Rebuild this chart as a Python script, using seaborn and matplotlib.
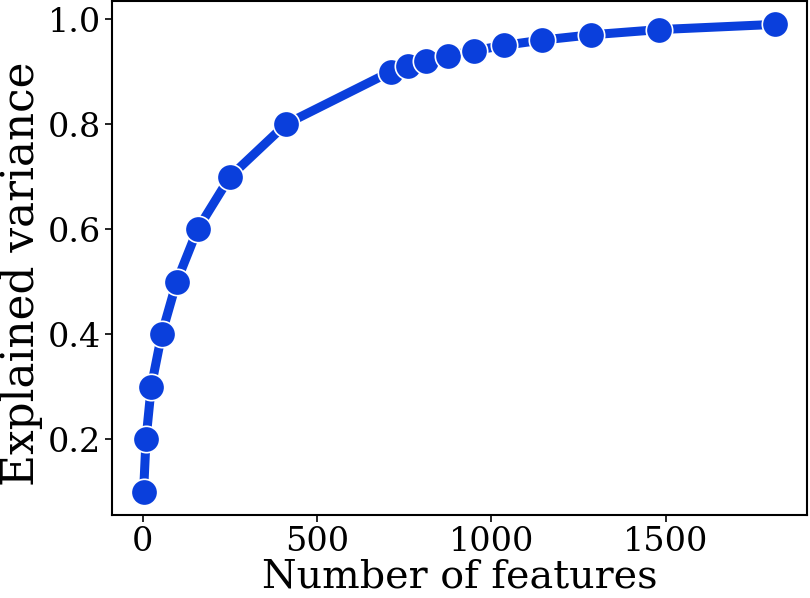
import matplotlib
matplotlib.use("Agg")
import matplotlib.pyplot as plt
import seaborn as sns
import pandas as pd

n_features = [3, 10, 25, 55, 98, 158, 251, 411, 712, 760, 814, 877, 952, 1037, 1145, 1285, 1481, 1815]
explained_variance = [0.1, 0.2, 0.3, 0.4, 0.5, 0.6, 0.7, 0.8, 0.9, 0.91, 0.92, 0.93, 0.94, 0.95, 0.96, 0.97, 0.98, 0.99]

sns.set_style("ticks")
plt.rcParams['font.family'] = ['DejaVu Serif']
plt.rcParams['text.color'] = 'black'
plt.rcParams['axes.labelcolor'] = 'black'
plt.rcParams['xtick.color'] = 'black'
plt.rcParams['ytick.color'] = 'black'

df = pd.DataFrame({"Number of features": n_features, "Explained variance": explained_variance})

fig = plt.figure(figsize=(8.1, 5.98), dpi=100)
ax = fig.add_axes([112/810, 1 - 515/598, (807-112)/810, (515-1)/598])
sns.lineplot(data=df, x="Number of features", y="Explained variance", ax=ax,
             color="#0a3fdc", linewidth=6.5, marker="o", markersize=19,
             markeredgecolor="white", markeredgewidth=1.2)
ax.set_xlabel("Number of features", fontsize=28.5, labelpad=0)
ax.set_ylabel("Explained variance", fontsize=31.5)
ax.yaxis.set_label_coords(-0.099, 0.469)
ax.tick_params(labelsize=24, width=1.2, length=5, colors="black", pad=3)
ax.set_xticks([0, 500, 1000, 1500])
ax.set_yticks([0.2, 0.4, 0.6, 0.8, 1.0])
for s in ax.spines.values():
    s.set_linewidth(1.5)
    s.set_color("black")
fig.savefig("out.png", dpi=100)
